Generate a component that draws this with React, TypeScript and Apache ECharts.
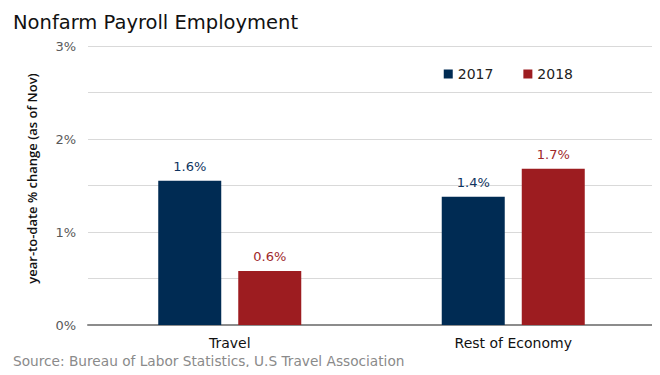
import React, { useEffect, useRef } from "react";
import * as echarts from "echarts";

const categories = ["Travel", "Rest of Economy"];
const values2017 = [1.55, 1.38];
const values2018 = [0.58, 1.68];
const labels2017 = ["1.6%", "1.4%"];
const labels2018 = ["0.6%", "1.7%"];
const yTicks = [0, 1, 2, 3];

const FONT = "'DejaVu Sans', sans-serif";

export default function App() {
  const ref = useRef<HTMLDivElement>(null);
  useEffect(() => {
    const chart = echarts.init(ref.current!, null, { renderer: "svg" });
    chart.setOption({
      animation: false,
      backgroundColor: "#ffffff",
      textStyle: { fontFamily: FONT },
      title: {
        text: "Nonfarm Payroll Employment",
        left: 8,
        top: 7,
        textStyle: { fontFamily: FONT, fontSize: 19.5, fontWeight: "normal", color: "#111111" },
      },
      legend: {
        right: 82,
        top: 62,
        itemWidth: 9,
        itemHeight: 9,
        itemGap: 30,
        icon: "rect",
        textStyle: { fontFamily: FONT, fontSize: 14, color: "#222222" },
        data: ["2017", "2018"],
      },
      graphic: [
        {
          type: "text",
          left: 13,
          top: 354,
          style: {
            text: "Source: Bureau of Labor Statistics, U.S Travel Association",
            fontFamily: FONT,
            fontSize: 13.7,
            fill: "#8a8a8a",
          },
        },
      ],
      grid: { left: 88, right: 5, top: 46, bottom: 50 },
      xAxis: {
        type: "category",
        data: categories,
        axisLine: { lineStyle: { color: "#8c8c8c", width: 2 } },
        axisTick: { show: false },
        axisLabel: { fontFamily: FONT, fontSize: 14, color: "#111111", margin: 11 },
      },
      yAxis: {
        type: "value",
        min: 0,
        max: 3,
        interval: 0.5,
        name: "year-to-date % change (as of Nov)",
        nameLocation: "middle",
        nameGap: 50,
        nameTextStyle: {
          fontFamily: "'Open Sans', sans-serif",
          fontSize: 13,
          fontWeight: 600,
          color: "#111111",
          padding: [0, 0, 0, 14],
        },
        axisLine: { show: false },
        axisTick: { show: false },
        splitLine: { lineStyle: { color: "#d9d9d9", width: 1 } },
        axisLabel: {
          fontFamily: FONT,
          fontSize: 13,
          color: "#595959",
          margin: 12,
          formatter: (v: number) => (yTicks.includes(v) ? v + "%" : ""),
        },
      },
      series: [
        {
          name: "2017",
          type: "bar",
          data: values2017,
          barWidth: 63,
          barGap: "27%",
          itemStyle: { color: "#002b53" },
          label: {
            show: true,
            position: "top",
            distance: 8,
            fontFamily: FONT,
            fontSize: 13,
            color: "#0f3460",
            formatter: (p: any) => labels2017[p.dataIndex],
          },
        },
        {
          name: "2018",
          type: "bar",
          data: values2018,
          barWidth: 63,
          itemStyle: { color: "#9d1c20" },
          label: {
            show: true,
            position: "top",
            distance: 8,
            fontFamily: FONT,
            fontSize: 13,
            color: "#a0282b",
            formatter: (p: any) => labels2018[p.dataIndex],
          },
        },
      ],
    });
    return () => chart.dispose();
  }, []);
  return <div ref={ref} style={{ width: 660, height: 375, margin: -8 }} />;
}
